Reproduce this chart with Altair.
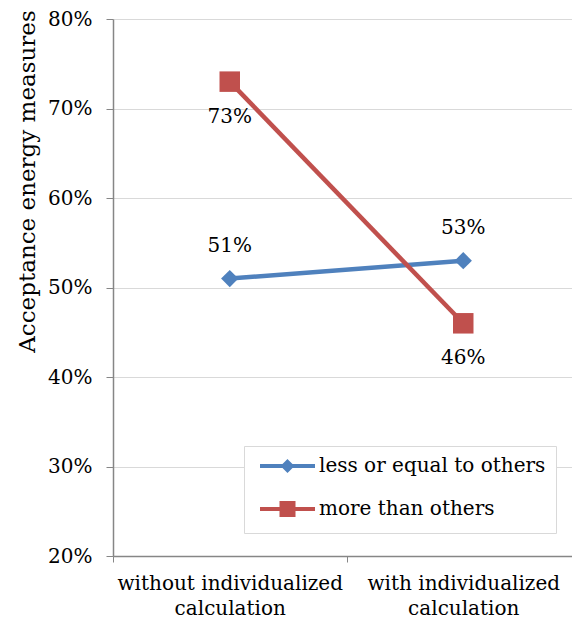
import altair as alt
import pandas as pd

categories = ["without individualized calculation", "with individualized calculation"]
series_names = ["less or equal to others", "more than others"]
less_values = [0.51, 0.53]
more_values = [0.73, 0.46]
y_ticks = [0.2, 0.3, 0.4, 0.5, 0.6, 0.7, 0.8]
colors = ["#4F81BD", "#C0504D"]

rows = []
for i, c in enumerate(categories):
    rows.append({"condition": c, "series": series_names[0], "series_mark": series_names[0], "value": less_values[i]})
for i, c in enumerate(categories):
    rows.append({"condition": c, "series": series_names[1], "series_mark": series_names[1], "value": more_values[i]})
df = pd.DataFrame(rows)

FONT = "DejaVu Serif"
FS = 20

color_scale = alt.Scale(domain=series_names, range=colors)

x_enc = alt.X(
    "condition:N",
    sort=categories,
    scale=alt.Scale(type="band", domain=categories, paddingInner=0, paddingOuter=0, range=[0, 467]),
    axis=alt.Axis(
        title=None, labelAngle=0, tickBand="extent", grid=False,
        labelExpr="[slice(datum.label, 0, lastindexof(datum.label, ' ')), slice(datum.label, lastindexof(datum.label, ' ') + 1)]",
        labelFont=FONT, labelFontSize=FS, labelColor="#000000", labelLineHeight=25,
        labelPadding=11, tickSize=6, tickColor="#868686", domainColor="#868686",
        domainWidth=1.5, labelBaseline="top", labelLimit=400,
    ),
)
y_enc = alt.Y(
    "value:Q",
    scale=alt.Scale(domain=[0.2, 0.8], nice=False, zero=False),
    axis=alt.Axis(
        values=y_ticks, format=".0%", title="Acceptance energy measures",
        titleFont=FONT, titleFontSize=23, titleFontWeight="normal", titleColor="#000000",
        titleX=-86, titleY=162, titleAngle=-90, titleAlign="center", titleBaseline="middle",
        labelFont=FONT, labelFontSize=FS, labelColor="#000000", labelPadding=14,
        tickSize=7, tickColor="#868686", domainColor="#868686", domainWidth=1.5,
        grid=True, gridColor="#D9D9D9", gridWidth=1,
    ),
)

lines = alt.Chart(df).mark_line(strokeWidth=4.5).encode(
    x=x_enc, y=y_enc,
    color=alt.Color("series_mark:N", scale=color_scale, legend=None),
    detail="series:N",
)

points = alt.Chart(df).mark_point(filled=True, opacity=1).encode(
    x=x_enc, y=y_enc,
    color=alt.Color("series_mark:N", scale=color_scale, legend=None),
    shape=alt.Shape("series_mark:N", scale=alt.Scale(domain=series_names, range=["diamond", "square"]), legend=None),
    size=alt.Size("series_mark:N", scale=alt.Scale(domain=series_names, range=[300, 420]), legend=None),
)

legend_paths = [
    "M-4,0H51M23.5,-4.2L27.7,0L23.5,4.2L19.3,0ZM23.5,-4.2V4.2",
    "M-4,0H51M17.5,-6H29.5V6H17.5ZM17.5,-2H29.5M17.5,2H29.5",
]
leg = alt.Legend(
    title=None, orient="none", legendX=131, legendY=427,
    fillColor="#FFFFFF", strokeColor="#D9D9D9", padding=10,
    labelFont=FONT, labelFontSize=FS, labelColor="#000000", labelLimit=400,
    symbolSize=4, symbolStrokeWidth=4, labelOffset=45, rowPadding=16,
)
legend_layer = alt.Chart(df).transform_filter("datum.value < 0").mark_point(
    filled=False, size=4, strokeWidth=4, opacity=1
).encode(
    x=x_enc, y=y_enc,
    color=alt.Color("series:N", scale=color_scale, legend=leg),
    shape=alt.Shape("series:N", scale=alt.Scale(domain=series_names, range=legend_paths), legend=leg),
)

text_less = alt.Chart(df).transform_filter(alt.datum.series == series_names[0]).mark_text(
    dy=-33, font=FONT, fontSize=FS, color="#000000"
).encode(x=x_enc, y=y_enc, text=alt.Text("value:Q", format=".0%"))
text_more = alt.Chart(df).transform_filter(alt.datum.series == series_names[1]).mark_text(
    dy=35, font=FONT, fontSize=FS, color="#000000"
).encode(x=x_enc, y=y_enc, text=alt.Text("value:Q", format=".0%"))

chart = alt.layer(lines, points, legend_layer, text_less, text_more).resolve_scale(
    color="independent", shape="independent", size="independent"
).properties(
    width=459, height=537,
    autosize=alt.AutoSizeParams(type="none"),
    padding={"left": 105, "top": 11, "right": 0, "bottom": 64},
).configure_view(stroke=None)

chart.save("out.html", embed_options={"renderer": "svg", "actions": False})
